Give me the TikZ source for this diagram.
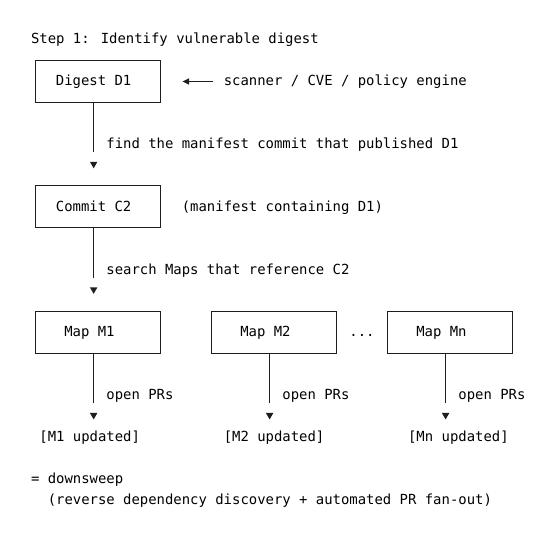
\documentclass[tikz,border=0pt]{standalone}
\usepackage{fontspec}
\newfontfamily\monofam{DejaVu Sans Mono}
\usetikzlibrary{shapes.geometric,arrows.meta}
\definecolor{lc}{HTML}{1E1E1E}
\begin{document}
\begin{tikzpicture}[x=1pt,y=-1pt,
  every node/.style={font=\monofam\fontsize{13.92pt}{16pt}\selectfont, text=black, inner sep=0pt},
  txt/.style={anchor=base west},
  box/.style={draw=lc, line width=0.9pt, minimum width=125.7pt, minimum height=41.86pt, text height=12pt, text depth=3pt},
  lk/.style={draw=lc, line width=0.9pt},
  tipdn/.style={regular polygon, regular polygon sides=3, shape border rotate=180, minimum size=8.6pt, fill=lc, draw=none},
]
\useasboundingbox (0,0) rectangle (555,543);

% Step 1
\node[txt] (step) at (30.81,43.8) {Step 1: Identify vulnerable digest};
\node[box] (d1) at (97.85,81.16) {Digest D1\hspace*{8.38pt}};
\node[txt] (scan) at (223.55,85.66) {scanner / CVE / policy engine};
\coordinate (scantip) at (182.5,81.5);
\draw[lk, -{Triangle[length=6.5pt,width=6pt]}, shorten <=10.25pt] (scan.west |- scantip) -- (scantip);

\node[tipdn] (t1) at (93.66,163.98) {};
\draw[lk, shorten >=12pt] (d1.south -| t1) -- (t1.center);
\node[txt] (find) at (106.23,148.45) {find the manifest commit that published D1};

\node[box] (c2) at (97.85,206.74) {Commit C2\hspace*{8.38pt}};
\node[txt] (mc) at (181.65,211.24) {(manifest containing D1)};

\node[tipdn] (t2) at (93.66,289.56) {};
\draw[lk, shorten >=12pt] (c2.south -| t2) -- (t2.center);
\node[txt] (search) at (106.23,274.03) {search Maps that reference C2};

% Maps
\node[box] (m1) at (97.85,332.32) {Map M1\hspace*{16.76pt}};
\node[box] (m2) at (273.83,332.32) {Map M2\hspace*{16.76pt}};
\node[box] (mn) at (449.81,332.32) {Map Mn\hspace*{16.76pt}};
\node[txt] (dots) at (349.25,336.82) {...};

\node[tipdn] (t3) at (93.66,415.14) {};
\node[tipdn] (t4) at (269.64,415.14) {};
\node[tipdn] (t5) at (445.62,415.14) {};
\draw[lk, shorten >=12pt] (m1.south -| t3) -- (t3.center);
\draw[lk, shorten >=12pt] (m2.south -| t4) -- (t4.center);
\draw[lk, shorten >=12pt] (mn.south -| t5) -- (t5.center);
\node[txt] (o1) at (106.23,399.61) {open PRs};
\node[txt] (o2) at (282.21,399.61) {open PRs};
\node[txt] (o3) at (458.19,399.61) {open PRs};

\node[txt] (u1) at (39.19,441.47) {[M1 updated]};
\node[txt] (u2) at (223.55,441.47) {[M2 updated]};
\node[txt] (u3) at (407.91,441.47) {[Mn updated]};

\node[txt] (eq) at (30.81,483.33) {= downsweep};
\node[txt] (rev) at (47.57,504.26) {(reverse dependency discovery + automated PR fan-out)};
\end{tikzpicture}
\end{document}
